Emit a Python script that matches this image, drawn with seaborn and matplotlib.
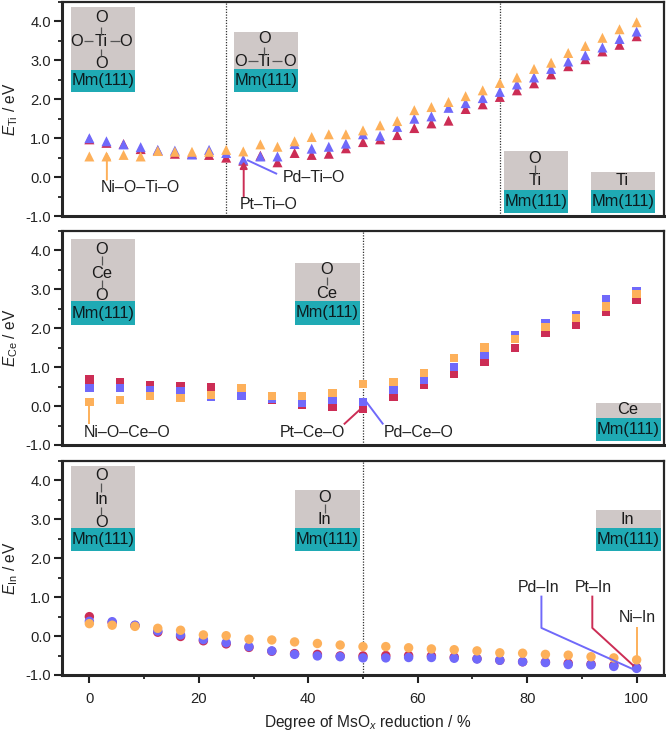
import numpy as np
import pandas as pd
import matplotlib
matplotlib.use("Agg")
import matplotlib.pyplot as plt
from matplotlib.patches import Rectangle
from matplotlib.ticker import FormatStrFormatter, MultipleLocator
import seaborn as sns

# Adsorption energies in eV, one list per metal and oxide family
ti_ni = [0.53, 0.53, 0.57, 0.53, 0.67, 0.65, 0.65, 0.65, 0.70, 0.66, 0.84, 0.78, 0.92, 1.03, 1.10, 1.10, 1.20,
         1.33, 1.44, 1.72, 1.80, 1.93, 2.08, 2.23, 2.42, 2.56, 2.78, 2.94, 3.19, 3.37, 3.58, 3.80, 3.98]
ti_pd = [1.00, 0.92, 0.84, 0.77, 0.70, 0.68, 0.58, 0.70, 0.62, 0.45, 0.53, 0.53, 0.85, 0.73, 0.78, 0.86, 1.10,
         1.06, 1.29, 1.50, 1.56, 1.78, 1.90, 2.03, 2.19, 2.38, 2.56, 2.78, 2.97, 3.13, 3.33, 3.55, 3.74]
ti_pt = [0.97, 0.88, 0.85, 0.72, 0.68, 0.60, 0.60, 0.57, 0.50, 0.42, 0.55, 0.38, 0.62, 0.57, 0.60, 0.74, 0.90,
         0.97, 1.08, 1.26, 1.38, 1.45, 1.75, 1.87, 2.06, 2.23, 2.41, 2.64, 2.85, 3.03, 3.23, 3.40, 3.62]

ce_ni = [0.11, 0.15, 0.26, 0.20, 0.28, 0.47, 0.26, 0.26, 0.33, 0.56, 0.62, 0.85, 1.24, 1.51, 1.72, 2.03, 2.26,
         2.56, 2.88]
ce_pd = [0.47, 0.47, 0.41, 0.38, 0.25, 0.27, 0.18, 0.09, 0.17, 0.11, 0.43, 0.68, 1.01, 1.32, 1.81, 2.13, 2.33,
         2.74, 2.96]
ce_pt = [0.68, 0.62, 0.55, 0.52, 0.48, 0.26, 0.17, 0.04, -0.02, -0.06, 0.24, 0.54, 0.84, 1.15, 1.49, 1.88, 2.10,
         2.42, 2.74]

in_ni = [0.32, 0.28, 0.25, 0.20, 0.15, 0.03, 0.01, -0.08, -0.10, -0.15, -0.19, -0.23, -0.27, -0.27, -0.30, -0.33,
         -0.35, -0.38, -0.43, -0.44, -0.47, -0.49, -0.53, -0.56, -0.61]
in_pd = [0.38, 0.37, 0.28, 0.13, 0.03, -0.09, -0.17, -0.27, -0.38, -0.47, -0.51, -0.53, -0.56, -0.56, -0.55, -0.55,
         -0.57, -0.59, -0.62, -0.66, -0.68, -0.73, -0.74, -0.78, -0.83]
in_pt = [0.50, 0.35, 0.27, 0.10, -0.01, -0.12, -0.20, -0.29, -0.39, -0.45, -0.47, -0.51, -0.51, -0.50, -0.50, -0.51,
         -0.54, -0.58, -0.62, -0.66, -0.67, -0.70, -0.72, -0.75, -0.81]

metals = ["Pt", "Pd", "Ni"]
palette = {"Pt": "#CC2D55", "Pd": "#7069FA", "Ni": "#FDB05A"}
grey, teal, ink = "#CFC8C7", "#1FAAB4", "#222222"

sns.set_style("ticks")
plt.rcParams.update({
    "font.family": ["Liberation Sans", "DejaVu Sans"],
    "mathtext.fontset": "custom",
    "mathtext.rm": "Liberation Sans",
    "mathtext.it": "Liberation Sans:italic",
    "axes.unicode_minus": False,
    "text.color": ink,
    "axes.labelcolor": ink,
    "xtick.color": ink,
    "ytick.color": ink,
})

W, H = 666, 731
fig = plt.figure(figsize=(W / 100, H / 100), dpi=100)


def panel(top_px, bottom_px):
    return fig.add_axes([62 / W, 1 - bottom_px / H, (664 - 62) / W, (bottom_px - top_px) / H])


def draw_series(ax, ni, pd_, pt, marker, size):
    n = len(ni)
    x = [100 * i / (n - 1) for i in range(n)]
    frame = pd.concat([
        pd.DataFrame({"reduction": x, "energy": vals, "metal": name})
        for name, vals in zip(metals, (pt, pd_, ni))
    ])
    sns.scatterplot(data=frame, x="reduction", y="energy", hue="metal", palette=palette,
                    marker=marker, s=size, linewidth=0, legend=False, ax=ax, zorder=3)


def style(ax, ylabel, bottom_ticks=False):
    ax.set_xlim(-5, 105)
    ax.set_ylim(-1, 4.5)
    ax.yaxis.set_major_locator(MultipleLocator(1))
    ax.yaxis.set_minor_locator(MultipleLocator(0.5))
    ax.yaxis.set_major_formatter(FormatStrFormatter("%.1f"))
    ax.tick_params(axis="y", which="major", length=5.5, width=1.5, labelsize=10.6, pad=2.5)
    ax.tick_params(axis="y", which="minor", length=3, width=1.3)
    ax.xaxis.set_major_locator(MultipleLocator(20))
    ax.xaxis.set_minor_locator(MultipleLocator(10))
    if bottom_ticks:
        ax.tick_params(axis="x", which="major", length=5.5, width=1.5, labelsize=10.6, pad=7)
        ax.tick_params(axis="x", which="minor", length=3, width=1.3)
        ax.set_xlabel(r"Degree of MsO$_{\mathit{x}}$ reduction / %", fontsize=11.2)
        ax.xaxis.set_label_coords(0.507, -0.176)
    else:
        ax.tick_params(axis="x", which="both", bottom=False, labelbottom=False)
        ax.set_xlabel("")
    ax.set_ylabel(ylabel, fontsize=11.2)
    ax.yaxis.set_label_coords(-0.069, 0.5)
    for side in ("left", "bottom"):
        ax.spines[side].set_linewidth(2.2)
    for side in ("top", "right"):
        ax.spines[side].set_linewidth(1.6)
        ax.spines[side].set_visible(True)
    for side in ax.spines:
        ax.spines[side].set_zorder(6)


def slab(ax, x0, x1, y_bottom, y_split, y_top):
    ax.add_patch(Rectangle((x0, y_split), x1 - x0, y_top - y_split, fc=grey, ec="none", zorder=1))
    ax.add_patch(Rectangle((x0, y_bottom), x1 - x0, y_split - y_bottom, fc=teal, ec="none", zorder=1))
    ax.text((x0 + x1) / 2, (y_split + y_bottom) / 2, "Mm(111)", ha="center", va="center",
            fontsize=11.8, color="#0c1c20", zorder=2)


def atom(ax, x, y, label):
    ax.text(x, y, label, ha="center", va="center", fontsize=11.8, color="#1a1a1a", zorder=2)


def bond(ax, xs, ys):
    ax.plot(xs, ys, color="#555555", lw=0.9, zorder=2, solid_capstyle="butt")


def leader(ax, xs, ys, metal):
    ax.plot(xs, ys, color=palette[metal], lw=1.4, zorder=4, solid_capstyle="butt")


def label(ax, x, y, text):
    ax.text(x, y, text, ha="left", va="center", fontsize=11.4, zorder=5)


ax1 = panel(2, 216)
ax2 = panel(231, 445)
ax3 = panel(461, 675)

draw_series(ax1, ti_ni, ti_pd, ti_pt, "^", 52)
draw_series(ax2, ce_ni, ce_pd, ce_pt, "s", 36)
draw_series(ax3, in_ni, in_pd, in_pt, "o", 46)

style(ax1, r"$\mathit{E}_{\mathrm{Ti}}$ / eV")
style(ax2, r"$\mathit{E}_{\mathrm{Ce}}$ / eV")
style(ax3, r"$\mathit{E}_{\mathrm{In}}$ / eV", bottom_ticks=True)

for ax, positions in ((ax1, (25, 75)), (ax2, (50,)), (ax3, (50,))):
    for pos in positions:
        ax.axvline(pos, color="#333333", lw=0.9, ls=(0, (1, 1.2)), zorder=2.5)

# Ti panel: surface sketches
slab(ax1, -3.4, 8.3, 2.19, 2.76, 4.37)
atom(ax1, 2.2, 4.09, "O")
atom(ax1, 2.2, 3.49, "Ti")
atom(ax1, 2.2, 2.93, "O")
atom(ax1, -2.25, 3.49, "O")
atom(ax1, 6.7, 3.49, "O")
bond(ax1, [2.2, 2.2], [3.66, 3.85])
bond(ax1, [2.2, 2.2], [3.12, 3.30])
bond(ax1, [-1.0, 0.7], [3.49, 3.49])
bond(ax1, [3.8, 5.6], [3.49, 3.49])

slab(ax1, 26.4, 38.2, 2.19, 2.77, 3.74)
atom(ax1, 32.0, 3.55, "O")
atom(ax1, 32.0, 2.98, "Ti")
atom(ax1, 27.7, 2.98, "O")
atom(ax1, 36.6, 2.98, "O")
bond(ax1, [32.0, 32.0], [3.15, 3.34])
bond(ax1, [28.9, 30.8], [2.98, 2.98])
bond(ax1, [33.3, 35.2], [2.98, 2.98])

slab(ax1, 75.7, 87.4, -0.915, -0.325, 0.67)
atom(ax1, 81.4, 0.47, "O")
atom(ax1, 81.4, -0.10, "Ti")
bond(ax1, [81.4, 81.4], [0.05, 0.31])

slab(ax1, 91.6, 103.3, -0.915, -0.32, 0.14)
atom(ax1, 97.4, -0.10, "Ti")

# Ti panel: callouts
ax1.annotate("", xy=(3.2, 0.64), xytext=(3.2, -0.07),
             arrowprops=dict(arrowstyle="-|>,head_width=0.22,head_length=0.4", color=palette["Ni"], lw=1.4,
                             shrinkA=0, shrinkB=0), zorder=4)
ax1.annotate("", xy=(28.2, 0.40), xytext=(28.2, -0.50),
             arrowprops=dict(arrowstyle="-|>,head_width=0.22,head_length=0.4", color=palette["Pt"], lw=1.4,
                             shrinkA=0, shrinkB=0), zorder=4)
leader(ax1, [34.3, 28.8], [0.08, 0.44], "Pd")
label(ax1, 2.0, -0.28, "Ni–O–Ti–O")
label(ax1, 35.3, -0.02, "Pd–Ti–O")
label(ax1, 27.5, -0.71, "Pt–Ti–O")

# Ce panel: surface sketches
slab(ax2, -3.3, 8.4, 2.09, 2.69, 4.29)
atom(ax2, 2.3, 4.02, "O")
atom(ax2, 2.3, 3.42, "Ce")
atom(ax2, 2.3, 2.85, "O")
bond(ax2, [2.3, 2.3], [3.63, 3.85])
bond(ax2, [2.3, 2.3], [3.02, 3.25])

slab(ax2, 37.5, 49.4, 2.09, 2.70, 3.69)
atom(ax2, 43.4, 3.50, "O")
atom(ax2, 43.4, 2.90, "Ce")
bond(ax2, [43.4, 43.4], [3.12, 3.33])

slab(ax2, 92.6, 104.4, -0.906, -0.30, 0.085)
atom(ax2, 98.3, -0.10, "Ce")

# Ce panel: callouts
leader(ax2, [0, 0], [-0.45, 0.04], "Ni")
leader(ax2, [46.5, 49.9], [-0.47, -0.03], "Pt")
leader(ax2, [53.7, 50.5], [-0.47, 0.13], "Pd")
label(ax2, -1.0, -0.68, "Ni–O–Ce–O")
label(ax2, 34.8, -0.68, "Pt–Ce–O")
label(ax2, 53.8, -0.68, "Pd–Ce–O")

# In panel: surface sketches
slab(ax3, -3.3, 8.4, 2.18, 2.78, 4.38)
atom(ax3, 2.2, 4.12, "O")
atom(ax3, 2.2, 3.52, "In")
atom(ax3, 2.2, 2.93, "O")
bond(ax3, [2.2, 2.2], [3.71, 3.94])
bond(ax3, [2.2, 2.2], [3.10, 3.32])

slab(ax3, 37.5, 49.4, 2.18, 2.79, 3.76)
atom(ax3, 43.0, 3.56, "O")
atom(ax3, 43.0, 2.99, "In")
bond(ax3, [43.0, 43.0], [3.16, 3.39])

slab(ax3, 92.6, 104.4, 2.18, 2.78, 3.24)
atom(ax3, 98.3, 3.00, "In")

# In panel: callouts
leader(ax3, [82.6, 82.6, 99.8], [1.04, 0.21, -0.88], "Pd")
leader(ax3, [91.9, 91.9, 99.5], [1.04, 0.21, -0.77], "Pt")
leader(ax3, [100, 100], [0.23, -0.56], "Ni")
label(ax3, 78.3, 1.26, "Pd–In")
label(ax3, 88.7, 1.26, "Pt–In")
label(ax3, 96.7, 0.47, "Ni–In")

fig.savefig("out.png", dpi=100)
